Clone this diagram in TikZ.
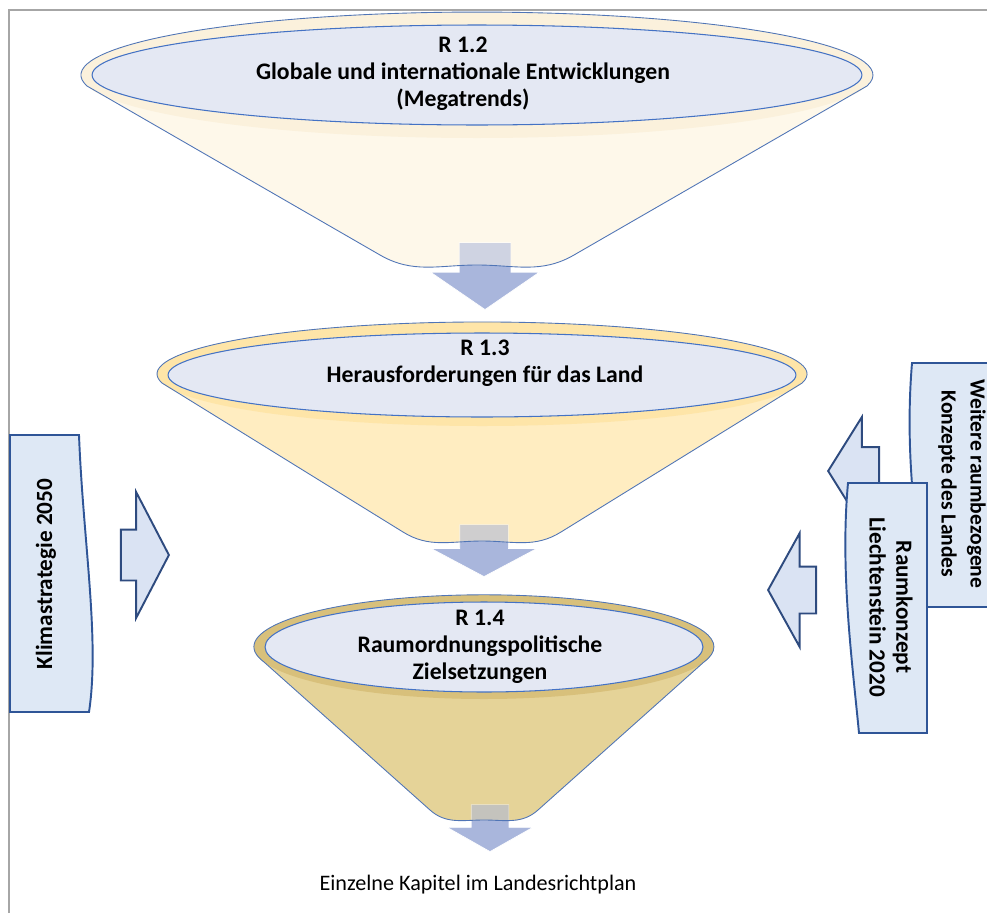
\documentclass[tikz,border=0pt]{standalone}
\usepackage{fontspec}
\setmainfont{Carlito}
\usetikzlibrary{shapes.geometric,shapes.arrows}

\definecolor{capblue}{HTML}{E4E8F3}
\definecolor{capline}{HTML}{4472C4}
\definecolor{coneA}{HTML}{FEF8EA}
\definecolor{ringA}{HTML}{FBF1DC}
\definecolor{coneB}{HTML}{FFEDC1}
\definecolor{ringB}{HTML}{FEE5A8}
\definecolor{coneC}{HTML}{E5D398}
\definecolor{ringC}{HTML}{D8C07B}
\definecolor{flowblue}{HTML}{A9B6DC}
\definecolor{docfill}{HTML}{DEE8F5}
\definecolor{docline}{HTML}{2F5597}
\definecolor{sidefill}{HTML}{DAE3F3}
\definecolor{sideline}{HTML}{2E4B7F}
\definecolor{framegray}{HTML}{A6A6A6}

% funnel bodies: top rim, sides, rounded bottom
\def\bodyA{(87,-86) arc[start angle=190, end angle=-10, x radius=396, y radius=63] -- (574,-255) to[out=210, in=0] (477,-265) to[out=180, in=-30] (380,-255) -- cycle}
\def\bodyB{(162,-383) arc[start angle=190, end angle=-10, x radius=325, y radius=52] -- (561,-532) to[out=212, in=0] (482,-541) to[out=180, in=-32] (403,-532) -- cycle}
\def\bodyC{(264,-662) arc[start angle=197, end angle=-17, x radius=230, y radius=52] -- (538,-810) to[out=222, in=0] (484,-820) to[out=180, in=-42] (430,-810) -- cycle}

\begin{document}
\begin{tikzpicture}[x=0.02cm, y=0.02cm,
	rimdisc/.style={ellipse, draw=capline, fill=capblue, line width=0.6pt, inner sep=0pt},
	rimtext/.style={align=center, font=\bfseries\fontsize{13.5}{15.3}\selectfont},
	coneline/.style={draw=capline!80!gray, line width=0.5pt},
	flow/.style={single arrow, fill=flowblue, draw=white, line width=0.4pt, inner ysep=0pt, anchor=tip, shape border rotate=270},
	sidearrow/.style={single arrow, fill=sidefill, draw=sideline, line width=1.1pt, inner xsep=0pt, anchor=tip},
	doc/.style={fill=docfill, draw=docline, line width=1.1pt},
	doctext/.style={align=center, font=\bfseries\fontsize{13.2}{15.3}\selectfont},
	]
	\useasboundingbox (0,0) rectangle (987,-913);
	\draw[framegray, line width=1.2pt] (9,-913) -- (9,-10) -- (987,-10);
	
	% R 1.2
	\fill[coneA] \bodyA;
	\node[flow, inner xsep=0.51cm, minimum height=1.34cm, single arrow head extend=0.57cm, single arrow tip angle=111] at (485,-310) (flowA) {};
	\fill[coneA, fill opacity=.45] \bodyA;
	\fill[ringA] (477,-75) ellipse[x radius=396, y radius=63];
	\draw[coneline] \bodyA;
	\node[rimdisc, minimum width=15.4cm, minimum height=2cm] at (477,-75) (rimA) {};
	\node[rimtext] at (463,-74) (txtA) {R 1.2\\Globale und internationale Entwicklungen\\(Megatrends)};
	
	% R 1.3
	\fill[coneB] \bodyB;
	\node[flow, inner xsep=0.48cm, minimum height=1.04cm, single arrow head extend=0.57cm, single arrow tip angle=124] at (484,-577) (flowB) {};
	\fill[coneB, fill opacity=.45] \bodyB;
	\fill[ringB] (482,-374) ellipse[x radius=325, y radius=52];
	\draw[coneline] \bodyB;
	\node[rimdisc, minimum width=12.56cm, minimum height=1.68cm] at (482,-375) (rimB) {};
	\node[rimtext] at (485,-363) (txtB) {R 1.3\\Herausforderungen für das Land};
	
	% R 1.4
	\fill[coneC] \bodyC;
	\node[flow, inner xsep=0.37cm, minimum height=0.94cm, single arrow head extend=0.48cm, single arrow tip angle=121] at (490,-852) (flowC) {};
	\fill[coneC, fill opacity=.45] \bodyC;
	\fill[ringC] (484,-647) ellipse[x radius=230, y radius=52];
	\draw[coneline] \bodyC;
	\node[rimdisc, minimum width=8.76cm, minimum height=1.8cm] at (484,-647) (rimC) {};
	\node[rimtext] at (480,-647) (txtC) {R 1.4\\Raumordnungspolitische\\Zielsetzungen};
	
	\node[font=\fontsize{12.6}{15}\selectfont] at (478,-885) (kapitel) {Einzelne Kapitel im Landesrichtplan};
	
	% left input
	\draw[doc] (10,-435) -- (79,-435) .. controls (83,-540) and (100,-640) .. (89,-712) -- (10,-712) -- cycle;
	\node[doctext, rotate=90] at (46,-574) (klima) {Klimastrategie 2050};
	\node[sidearrow, inner ysep=0.49cm, minimum height=0.96cm, single arrow head extend=0.75cm, single arrow tip angle=125] at (170,-555) (klimaarrow) {};
	
	% right inputs
	\draw[doc] (987,-363) -- (912,-363) .. controls (904,-460) and (918,-530) .. (923,-607) -- (987,-607);
	\node[doctext, rotate=-90, font=\bfseries\fontsize{12.3}{16.5}\selectfont] at (962,-484) (weitere) {Weitere raumbezogene\\Konzepte des Landes};
	\node[sidearrow, shape border rotate=180, inner ysep=0.46cm, minimum height=1.02cm, single arrow head extend=0.6cm, single arrow tip angle=116] at (827,-471) (weiterearrow) {};
	\draw[doc] (927,-483) -- (848,-483) .. controls (840,-570) and (852,-660) .. (859,-733) -- (927,-733) -- cycle;
	\node[doctext, rotate=-90] at (891,-607) (raumk) {Raumkonzept\\Liechtenstein 2020};
	\node[sidearrow, shape border rotate=180, inner ysep=0.45cm, minimum height=0.96cm, single arrow head extend=0.67cm, single arrow tip angle=122] at (767,-590) (raumkarrow) {};
\end{tikzpicture}
\end{document}
